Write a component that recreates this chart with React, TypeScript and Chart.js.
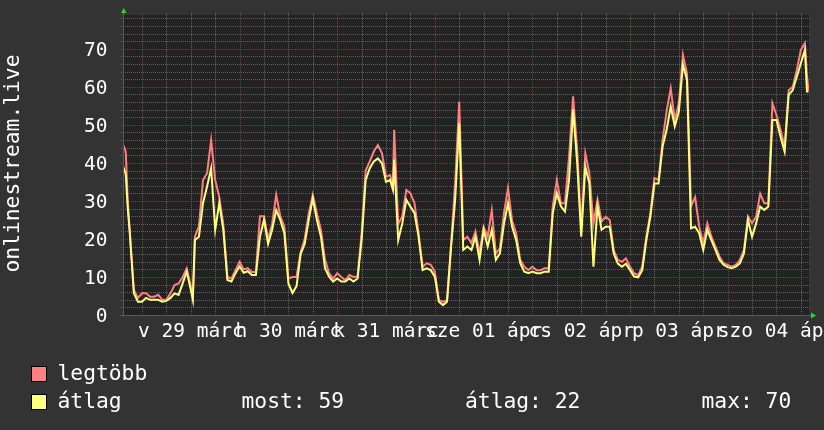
import React, { useEffect, useRef } from 'react';
import { Chart, registerables } from 'chart.js';

Chart.register(...registerables);

// Time in hours relative to midnight, 29 March
const HOURS = [
  -4.6, -4, -3.5, -3, -2, -1, 0, 1, 2, 3, 4, 5, 6, 7, 8, 9, 10, 11, 12, 12.5,
  13, 14, 15, 16, 17, 18, 19, 20, 21, 22, 23, 24, 25, 26, 27, 28, 29, 30, 31, 32,
  33, 34, 35, 36, 37, 38, 39, 40, 41, 42, 43, 44, 45, 46, 47, 48, 49, 50, 51, 52,
  53, 54, 55, 56, 57, 58, 59, 60, 61, 61.7, 62, 63, 64, 65, 66, 67, 68, 69, 70, 71,
  72, 73, 74, 75, 76, 77, 78, 79, 80, 81, 82, 83, 84, 85, 86, 87, 88, 89, 90, 91,
  92, 93, 94, 95, 96, 97, 98, 99, 100, 101, 102, 103, 104, 105, 106, 107, 108, 109, 110, 111,
  112, 113, 114, 115, 116, 117, 118, 119, 120, 121, 122, 123, 124, 125, 126, 127, 128, 129, 130, 131,
  132, 133, 134, 135, 136, 137, 138, 139, 140, 141, 142, 143, 144, 145, 146, 147, 148, 149, 150, 151,
  152, 153, 154, 155, 156, 157, 158, 159, 160, 161, 162, 163, 163.5, 163.9,
];

const AVG = [
  39, 37, 28, 21.5, 5.7, 3.5, 3.5, 4.5, 4, 4, 4, 3.5, 3.7, 4.5, 5.7, 5.3, 8.3, 11.4, 6.6, 4,
  19.7, 20.6, 29.4, 33.8, 38.6, 22.4, 29.4, 22.4, 9.2, 8.8, 11, 12.8, 11.1, 11.5, 10.5, 10.5, 20.6, 25, 18.7, 22.4,
  27.6, 25, 21.5, 8.3, 5.8, 7.6, 16, 18.7, 25, 30.7, 25, 20.6, 12.3, 10.1, 8.8, 9.6, 8.8, 8.8, 9.6, 8.8,
  9.6, 19.7, 35.5, 38.6, 40.4, 41.2, 39.9, 35, 35.5, 32.9, 40.8, 19.7, 24.1, 30.3, 28.5, 26.8, 20.6, 11.8, 12.3, 11.8,
  10.1, 3.5, 2.6, 3.5, 17.9, 30.3, 50.4, 17.1, 18, 17.1, 20.6, 14.5, 22.4, 18, 22.4, 14.5, 16.2, 24, 29.4, 23.2,
  19.7, 13.6, 11.4, 11, 11.4, 11, 11, 11.4, 11.4, 26.8, 32, 28.6, 27.2, 35.5, 54, 40, 20.6, 39, 34.6, 12.7,
  28.6, 22.4, 23.2, 23.2, 16.1, 13.5, 12.7, 13.5, 11.8, 10.1, 9.9, 11.8, 19.7, 25.9, 34.6, 34.6, 44.3, 48.7, 54.8, 49.6,
  53.5, 65.8, 61.9, 22.8, 23.2, 21.5, 17.1, 22.4, 19.7, 17.1, 14.5, 13.2, 12.6, 12.3, 12.7, 13.6, 16.2, 25, 20.6, 24.1,
  28.5, 27.6, 28.5, 51.3, 51.3, 46.9, 43, 57.9, 59.1, 62.7, 66.2, 69.7, 58.8, 58.8,
];

const MAX = [
  44.7, 43, 30, 22, 6.6, 4.5, 5.7, 5.7, 4.8, 4.8, 5.3, 4, 4, 5.7, 7.9, 8.3, 10, 12.3, 7.5, 4.8,
  20.6, 23.3, 35.5, 37.3, 46, 35.5, 31, 23.7, 10, 9.6, 11.8, 14, 12, 12.3, 11.3, 11.3, 26, 26, 20, 24,
  31.6, 26, 23.3, 9.6, 10, 10, 16.5, 20, 26.7, 31.6, 26.7, 22.4, 14.5, 11, 9.6, 11, 10, 9.2, 10.5, 10,
  10.1, 21.5, 38, 40.4, 43, 44.7, 42.5, 36.4, 36.8, 34, 48.7, 24, 25.9, 32.9, 32, 29.4, 21.5, 12.7, 13.6, 13.2,
  11.4, 3.9, 3.5, 3.9, 18.7, 34.6, 56.1, 19.7, 20.6, 18.9, 22, 16.2, 23.2, 20.6, 27.6, 16.2, 17.5, 26.8, 33.4, 24.8,
  21.5, 14.5, 12.7, 11.8, 12.7, 11.8, 11.8, 12.3, 12.3, 28.6, 35.5, 29.4, 29.4, 41.6, 57.5, 43.4, 22.4, 42.5, 37.3, 24,
  30.3, 24.6, 25.8, 25, 17, 14.5, 14, 14.9, 12.7, 11, 10.5, 12.7, 20.6, 26.8, 36, 35.5, 46, 53.6, 59.6, 51.3,
  55.7, 68.4, 63.6, 28.6, 31, 23.3, 18.8, 24.1, 20.6, 18, 15.4, 13.6, 13.2, 12.7, 13.2, 14.5, 17.1, 25.9, 24.1, 25.9,
  31.9, 29.4, 29.4, 55.7, 52.6, 48.7, 44.3, 59.1, 60, 64.5, 69.7, 71.5, 63, 59,
];

const DAY_LABELS = ['v 29 márc', 'h 30 márc', 'k 31 márc', 'sze 01 ápr', 'cs 02 ápr', 'p 03 ápr', 'szo 04 ápr'];
const LABEL_HOURS = [12, 36, 60, 84, 108, 132, 156];
const Y_TICKS = [0, 10, 20, 30, 40, 50, 60, 70];
const Y_TITLE = 'onlinestream.live';
const LEGEND_MAX = 'legtöbb';
const LEGEND_AVG = 'átlag';
const STATS = ['most: 59', 'átlag: 22', 'max: 70'];

const X_MIN = -4.67;
const X_MAX = 164.0;
const Y_MAX = 78.9;

const PAGE_BG = '#333333';
const PLOT_BG = '#222222';
const MINOR_GRID = 'rgba(150,150,150,0.55)';
const MAJOR_GRID = 'rgba(200,80,80,0.55)';
const AXIS_COLOR = '#5a5a5a';
const ARROW_COLOR = '#22dd22';
const TEXT_COLOR = '#ffffff';
const MAX_COLOR = '#ff8080';
const AVG_COLOR = '#ffff80';
const AXIS_FONT = '19.5px "DejaVu Sans Mono"';
const LEGEND_FONT = '21.3px "DejaVu Sans Mono"';

const rrdPlugin = {
  id: 'rrd',
  beforeDraw(chart: any) {
    const { ctx, chartArea: a, scales } = chart;
    const xs = scales.x;
    const ys = scales.y;
    ctx.save();
    ctx.fillStyle = PAGE_BG;
    ctx.fillRect(0, 0, chart.width, chart.height);
    ctx.fillStyle = PLOT_BG;
    ctx.fillRect(a.left, a.top, a.right - a.left, a.bottom - a.top);
    ctx.lineWidth = 1;
    ctx.setLineDash([1, 1]);
    const hline = (v: number, color: string) => {
      const y = Math.round(ys.getPixelForValue(v)) + 0.5;
      ctx.strokeStyle = color;
      ctx.beginPath();
      ctx.moveTo(a.left - 2, y);
      ctx.lineTo(a.right + 2, y);
      ctx.stroke();
    };
    const vline = (h: number, color: string) => {
      const x = Math.round(xs.getPixelForValue(h)) + 0.5;
      ctx.strokeStyle = color;
      ctx.beginPath();
      ctx.moveTo(x, a.top - 2);
      ctx.lineTo(x, a.bottom + 2);
      ctx.stroke();
    };
    for (let v = 2; v <= Y_MAX; v += 2) if (v % 10 !== 0) hline(v, MINOR_GRID);
    for (let h = 0; h <= X_MAX; h += 6) if (h % 24 !== 0) vline(h, MINOR_GRID);
    for (let v = 10; v <= Y_MAX; v += 10) hline(v, MAJOR_GRID);
    for (let h = 0; h <= X_MAX; h += 24) vline(h, MAJOR_GRID);
    ctx.restore();
  },
  afterDatasetsDraw(chart: any) {
    const { ctx, chartArea: a, scales } = chart;
    const xs = scales.x;
    const ys = scales.y;
    ctx.save();
    // axes
    ctx.strokeStyle = AXIS_COLOR;
    ctx.lineWidth = 1;
    ctx.beginPath();
    ctx.moveTo(a.left - 3, a.bottom + 0.5);
    ctx.lineTo(a.right + 2, a.bottom + 0.5);
    ctx.moveTo(a.left + 0.5, a.bottom + 2);
    ctx.lineTo(a.left + 0.5, a.top - 2);
    ctx.stroke();
    // arrows
    ctx.fillStyle = ARROW_COLOR;
    ctx.beginPath();
    ctx.moveTo(a.left - 2, a.top - 2);
    ctx.lineTo(a.left + 3.5, a.top - 2);
    ctx.lineTo(a.left + 0.75, a.top - 7);
    ctx.closePath();
    ctx.fill();
    ctx.beginPath();
    ctx.moveTo(a.right + 2, a.bottom - 2.5);
    ctx.lineTo(a.right + 2, a.bottom + 3.5);
    ctx.lineTo(a.right + 7, a.bottom + 0.5);
    ctx.closePath();
    ctx.fill();
    // y tick labels
    ctx.fillStyle = TEXT_COLOR;
    ctx.font = AXIS_FONT;
    ctx.textAlign = 'right';
    ctx.textBaseline = 'alphabetic';
    Y_TICKS.forEach((v) => {
      const y = ys.getPixelForValue(v);
      ctx.fillText(String(v), a.left - 15.5, y + 7.3);
    });
    // x labels
    ctx.textAlign = 'center';
    LABEL_HOURS.forEach((h, i) => {
      const x = xs.getPixelForValue(h);
      ctx.fillText(DAY_LABELS[i], x, a.bottom + 22.3);
    });
    // y title
    ctx.font = LEGEND_FONT;
    ctx.save();
    ctx.translate(18.5, 163.5);
    ctx.rotate(-Math.PI / 2);
    ctx.textAlign = 'center';
    ctx.fillText(Y_TITLE, 0, 0);
    ctx.restore();
    // legend
    ctx.textAlign = 'left';
    const box = (x: number, y: number, color: string) => {
      ctx.fillStyle = color;
      ctx.fillRect(x, y, 16, 16);
      ctx.strokeStyle = '#000000';
      ctx.lineWidth = 1;
      ctx.strokeRect(x + 0.5, y + 0.5, 15, 15);
    };
    box(31, 366, MAX_COLOR);
    box(31, 394, AVG_COLOR);
    ctx.fillStyle = TEXT_COLOR;
    ctx.fillText(LEGEND_MAX, 57.5, 380);
    ctx.fillText(LEGEND_AVG, 57.5, 408);
    ctx.fillText(STATS[0], 241.5, 408);
    ctx.fillText(STATS[1], 465, 408);
    ctx.fillText(STATS[2], 701.5, 408);
    ctx.restore();
  },
};

export default function App() {
  const ref = useRef<HTMLCanvasElement>(null);
  useEffect(() => {
    const canvas = ref.current;
    if (!canvas) return;
    const chart = new Chart(canvas, {
      type: 'line',
      data: {
        datasets: [
          {
            label: LEGEND_AVG,
            data: HOURS.map((h, i) => ({ x: h, y: AVG[i] })),
            borderColor: AVG_COLOR,
            borderWidth: 2,
            pointRadius: 0,
            fill: false,
            tension: 0,
          },
          {
            label: LEGEND_MAX,
            data: HOURS.map((h, i) => ({ x: h, y: MAX[i] })),
            borderColor: MAX_COLOR,
            borderWidth: 2,
            pointRadius: 0,
            fill: false,
            tension: 0,
          },
        ],
      },
      options: {
        animation: false,
        responsive: false,
        devicePixelRatio: 1,
        events: [],
        layout: { padding: { left: 123, top: 15, right: 15, bottom: 115 } },
        scales: {
          x: { type: 'linear', min: X_MIN, max: X_MAX, display: false },
          y: { type: 'linear', min: 0, max: Y_MAX, display: false },
        },
        plugins: { legend: { display: false }, tooltip: { enabled: false } },
      },
      plugins: [rrdPlugin],
    } as any);
    return () => chart.destroy();
  }, []);
  return (
    <div style={{ position: 'fixed', left: 0, top: 0, width: 824, height: 430, background: PAGE_BG }}>
      <canvas ref={ref} width={824} height={430} style={{ display: 'block', width: 824, height: 430 }} />
    </div>
  );
}
